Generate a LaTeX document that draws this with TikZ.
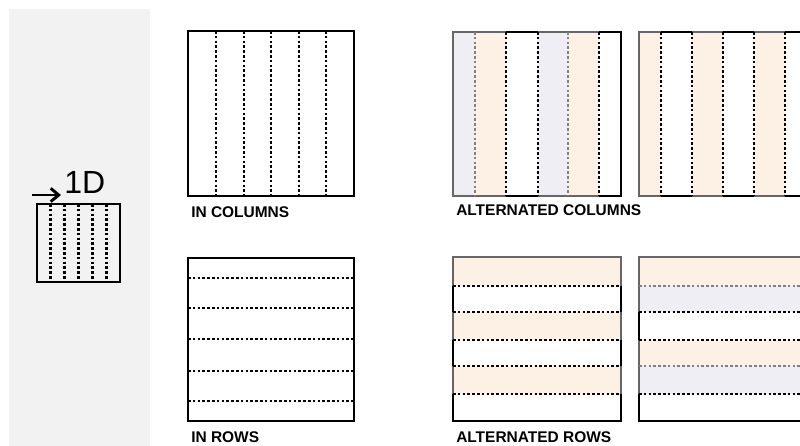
\documentclass[tikz,border=0pt]{standalone}
\usepackage{fontspec}
\setmainfont{Liberation Sans}
\usepackage{xcolor}
\usetikzlibrary{arrows.meta}
\definecolor{panelgray}{HTML}{F2F2F2}
\definecolor{lightpeach}{HTML}{FDF1E6}
\definecolor{lightlavender}{HTML}{EFEEF4}
\definecolor{edgegray}{HTML}{666666}
\definecolor{dotgray}{HTML}{808080}
\tikzstyle{blackedge} = [line width=2pt, draw=black]
\tikzstyle{greyedge} = [line width=1.8pt, draw=edgegray]
\tikzstyle{dotline} = [line width=2.2pt, dash pattern=on 2pt off 1.6pt, draw=black]
\tikzstyle{softdot} = [dotline, draw=dotgray]
\tikzstyle{caption} = [anchor=base west, inner sep=0pt, font=\fontsize{11.6}{13}\selectfont\bfseries]
\tikzstyle{arrow} = [line width=2.2pt, -{Straight Barb[length=6pt,width=10pt,line width=2.2pt]}]

\begin{document}
\begin{tikzpicture}[x=0.75pt, y=-0.75pt]
  \clip (0,0) rectangle (800,446);
  \fill[white] (0,0) rectangle (800,446);
  \fill[panelgray] (9,9) rectangle (150,446);

  % 1D sketch
  \draw[blackedge] (37,204) rectangle (120,282);
  \draw[dotline] (50.8,204)--(50.8,282) (64.7,204)--(64.7,282) (78.5,204)--(78.5,282) (92.3,204)--(92.3,282) (106.2,204)--(106.2,282);
  \node (oned) [anchor=base west, inner sep=0pt, font=\fontsize{24}{26}\selectfont] at (64,193) {1D};
  \coordinate (a0) at (32,195);
  \coordinate (a1) at (61,195);
  \draw[arrow] (a0)--(a1);

  % in columns
  \draw[blackedge] (188,31) rectangle (354,196);
  \draw[dotline] (216,31)--(216,196) (244,31)--(244,196) (271,31)--(271,196) (299,31)--(299,196) (326,31)--(326,196);
  \node (cols) [caption] at (191,217) {IN COLUMNS};

  % in rows
  \draw[blackedge] (188,258) rectangle (354,421);
  \draw[dotline] (188,278)--(354,278) (188,308)--(354,308) (188,339)--(354,339) (188,371)--(354,371) (188,401)--(354,401);
  \node (rows) [caption] at (191,442) {IN ROWS};

  % alternated columns
  \fill[lightlavender] (453,32) rectangle (475,196) (538,32) rectangle (568,196);
  \fill[lightpeach] (475,32) rectangle (506,196) (568,32) rectangle (599,196);
  \draw[greyedge] (453,32) rectangle (621,196);
  \draw[blackedge] (506,32)--(538,32) (506,196)--(538,196) (599,32)--(621,32)--(621,196)--(599,196);
  \draw[softdot] (475,32)--(475,196) (568,32)--(568,196);
  \draw[dotline] (506,32)--(506,196) (538,32)--(538,196) (599,32)--(599,196);
  \node (altcols) [caption] at (456,215) {ALTERNATED COLUMNS};

  \fill[lightpeach] (639,32) rectangle (661,196) (692,32) rectangle (723,196) (754,32) rectangle (785,196);
  \draw[greyedge] (639,32) rectangle (807,196);
  \draw[blackedge] (661,32)--(692,32) (723,32)--(754,32) (785,32)--(807,32)--(807,196)--(785,196) (661,196)--(692,196) (723,196)--(754,196);
  \draw[dotline] (661,32)--(661,196) (692,32)--(692,196) (723,32)--(723,196) (754,32)--(754,196) (785,32)--(785,196);

  % alternated rows
  \fill[lightpeach] (453,257) rectangle (621,286) (453,312) rectangle (621,340) (453,366) rectangle (621,394);
  \draw[greyedge] (453,257) rectangle (621,421);
  \draw[blackedge] (453,286)--(453,312) (621,286)--(621,312) (453,340)--(453,366) (621,340)--(621,366) (453,394)--(453,421)--(621,421)--(621,394);
  \draw[dotline] (453,286)--(621,286) (453,312)--(621,312) (453,340)--(621,340) (453,366)--(621,366) (453,394)--(621,394);
  \node (altrows) [caption] at (456,442) {ALTERNATED ROWS};

  \fill[lightpeach] (639,257) rectangle (807,286) (639,340) rectangle (807,366);
  \fill[lightlavender] (639,286) rectangle (807,312) (639,366) rectangle (807,394);
  \draw[greyedge] (639,257) rectangle (807,421);
  \draw[blackedge] (639,312)--(639,340) (639,394)--(639,421)--(807,421);
  \draw[softdot] (639,286)--(807,286) (639,366)--(807,366);
  \draw[dotline] (639,312)--(807,312) (639,340)--(807,340) (639,394)--(807,394);
\end{tikzpicture}
\end{document}
